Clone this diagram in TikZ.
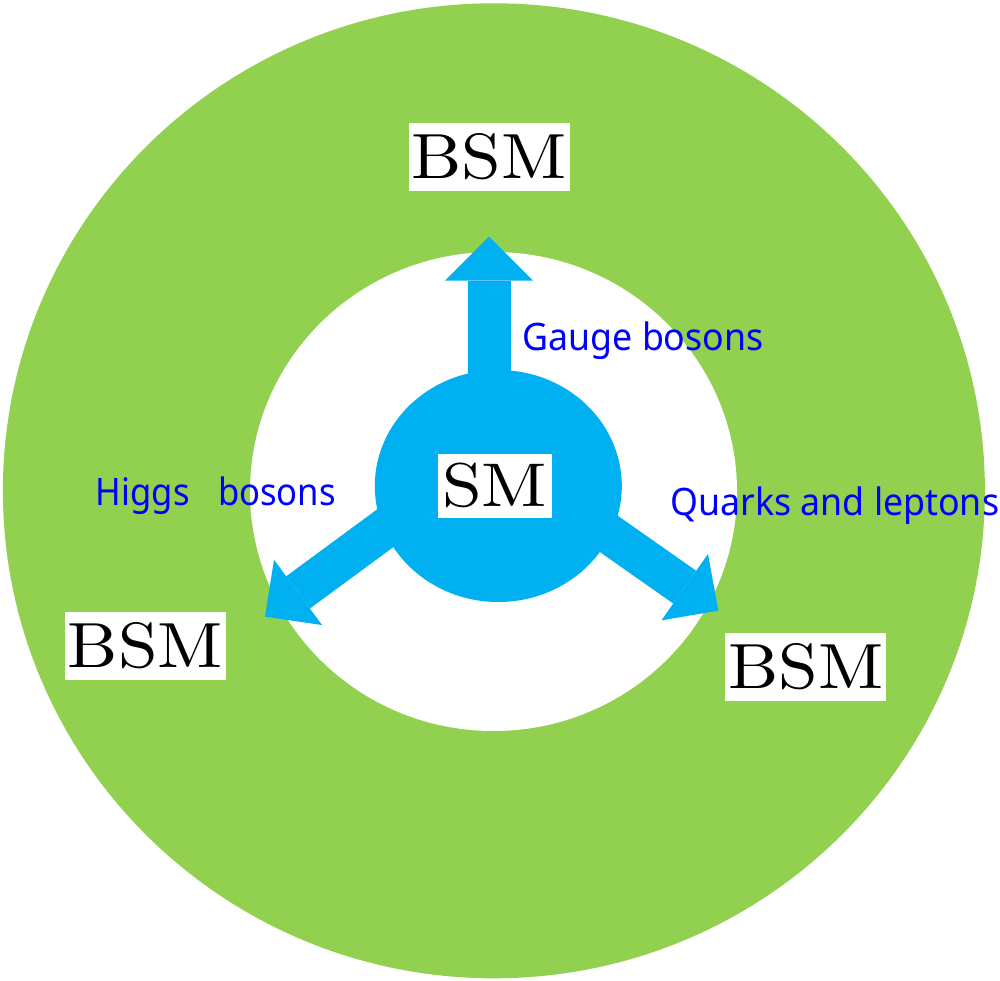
\documentclass[tikz,border=0pt]{standalone}
\usepackage{fontspec}
\usepackage{graphicx}
\newfontfamily\labfont{Noto Sans}
\usetikzlibrary{arrows.meta,shapes.geometric}
\definecolor{ringgreen}{RGB}{146,208,80}
\definecolor{smblue}{RGB}{0,176,240}
\definecolor{txtblue}{RGB}{0,0,255}
\tikzset{
  bsmbox/.style={fill=white, inner sep=0pt, minimum width=161pt, minimum height=68pt},
  bigarrow/.style={draw=smblue, line width=43pt, -{Triangle[width=88pt,length=44pt,line width=0pt]}},
  diagarrow/.style={draw=smblue, line width=40pt, -{Triangle[width=81pt,length=41pt,line width=0pt]}},
  flabel/.style={text=txtblue, inner sep=0pt, anchor=base west, font=\labfont\fontsize{37.8}{40}\selectfont},
}
\newcommand{\bsmtext}{\resizebox{155pt}{45pt}{BSM}}
\begin{document}
\begin{tikzpicture}[x=1pt,y=-1pt]
\useasboundingbox (0,0) rectangle (1000,981);
\fill[white] (0,0) rectangle (1000,981);
\fill[ringgreen] (493.9,490.8) ellipse [x radius=491pt, y radius=487.5pt];
\fill[white] (493.5,491.5) ellipse [x radius=243.5pt, y radius=239.5pt];
\coordinate (sU) at (489,470);
\coordinate (tU) at (489,236.7);
\coordinate (sL) at (459.9,473.3);
\coordinate (tL) at (265,616.7);
\coordinate (sR) at (521.2,472.4);
\coordinate (tR) at (718.3,610.7);
\draw[bigarrow] (sU) -- (tU);
\draw[diagarrow] (sL) -- (tL);
\draw[diagarrow] (sR) -- (tR);
\node[ellipse, fill=smblue, minimum width=247pt, minimum height=232pt, inner sep=0pt] (smdisk) at (498.3,486) {};
\node[fill=white, inner sep=0pt, minimum width=114pt, minimum height=64pt] (sm) at (494.8,485.5) {\resizebox{105pt}{43.5pt}{SM}};
\node[bsmbox] (bsmU) at (489,157) {\bsmtext};
\node[bsmbox] (bsmL) at (145.5,646) {\bsmtext};
\node[bsmbox] (bsmR) at (805.7,667) {\bsmtext};
\node[flabel] (gauge) at (522.3,350) {\resizebox{241pt}{\height}{Gauge bosons}};
\node[flabel] (higgs) at (95.7,505.7) {\resizebox{240pt}{\height}{Higgs\ \ \hspace{0.3em}bosons}};
\node[flabel] (quarks) at (670,515) {\resizebox{329pt}{\height}{Quarks and leptons}};
\end{tikzpicture}
\end{document}
